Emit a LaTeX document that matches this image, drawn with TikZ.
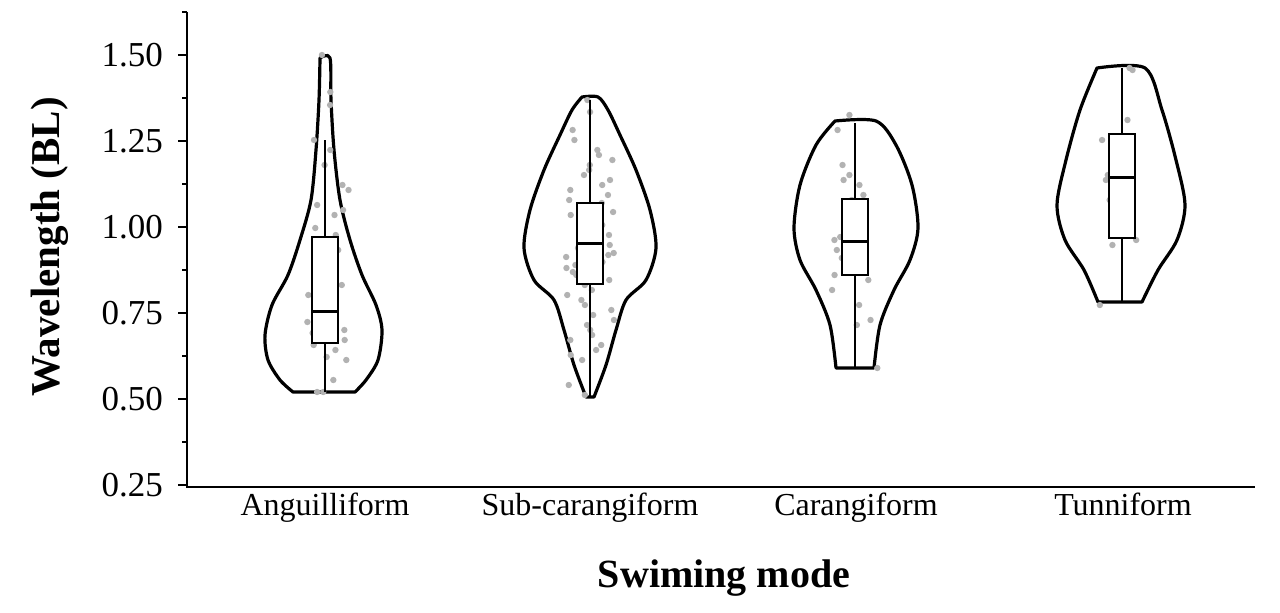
\documentclass[tikz,border=0pt]{standalone}
\usepackage{fontspec}
\setmainfont{Liberation Serif}
\usetikzlibrary{positioning}
\tikzset{
  violin/.style={line width=1.6pt,line join=round},
  boxp/.style={line width=0.7pt,fill=white},
  med/.style={line width=1.5pt},
  dot/.style={fill=black!30,draw=none},
  ticklab/.style={font=\fontsize{17.5}{19}\selectfont,anchor=east},
  catlab/.style={font=\fontsize{16}{18}\selectfont,anchor=base}
}
\begin{document}
\begin{tikzpicture}[x=0.5pt,y=-0.5pt]
  \useasboundingbox (0,0) rectangle (1280,612);
  % axes
  \draw[line width=1.3pt] (187,12) -- (187,487) -- (1255,487);
  \foreach \v/\y in {1.50/55,1.25/141,1.00/227,0.75/313,0.50/399,0.25/485} {
    \draw[line width=1pt] (187,\y) -- (178,\y);
    \node[ticklab] (t\y) at (170,\y) {\v};
  }
  \foreach \y in {98,184,270,356,442,12} \draw[line width=1pt] (187,\y) -- (182,\y);
  \node[font=\fontsize{20.5}{22}\selectfont\bfseries,rotate=90] (ylab) at (50,247) {Wavelength (BL)};
  \node[font=\fontsize{20}{22}\selectfont\bfseries] (xlab) at (724,578) {Swiming mode};
  \node[catlab] (c1) at (325,515) {Anguilliform};
  \node[catlab] (c2) at (590,515) {Sub-carangiform};
  \node[catlab] (c3) at (856,515) {Carangiform};
  \node[catlab] (c4) at (1123,515) {Tunniform};

  % violins
  \draw[violin] plot[smooth] coordinates {(320,58)(330,58)(331,100)(334,150)(340,200)(350,240)(362,275)(376,305)(382,330)(378,360)(366,380)(355,392)}
     -- plot[smooth] coordinates {(293,392)(280,380)(268,360)(265,335)(272,305)(288,275)(300,240)(311,200)(316,150)(319,100)(320,58)} -- cycle;
  \draw[violin] plot[smooth] coordinates {(582,97)(598,97)(608,110)(620,135)(636,170)(650,210)(656,248)(646,280)(626,300)(616,330)(606,365)(594,397)}
     -- plot[smooth] coordinates {(586,397)(574,365)(564,330)(554,300)(534,280)(524,248)(530,210)(544,170)(560,135)(572,110)(582,97)} -- cycle;
  \draw[violin] plot[smooth] coordinates {(835,121)(876,121)(896,145)(912,185)(918,228)(910,260)(894,290)(880,325)(874,368)}
     -- plot[smooth] coordinates {(836,368)(830,325)(816,290)(800,260)(794,228)(800,185)(816,145)(835,121)} -- cycle;
  \draw[violin] plot[smooth] coordinates {(1097,68)(1145,68)(1162,110)(1176,160)(1185,205)(1177,240)(1158,270)(1142,302)}
     -- plot[smooth] coordinates {(1098,302)(1084,270)(1065,240)(1057,205)(1066,160)(1080,110)(1097,68)} -- cycle;

  % points
  \pgfmathsetseed{7}
  \foreach \cx/\ys in {325/{55,92,105,140,150,165,185,190,205,210,215,228,235,250,260,262,270,272,285,295,300,305,310,320,322,330,333,340,345,350,357,360,380,392,392},
    590/{100,112,130,140,150,155,160,165,170,175,180,185,190,195,200,203,207,210,212,215,220,225,230,232,235,240,242,245,248,250,253,255,257,260,262,265,268,270,272,275,280,285,290,295,300,305,310,315,320,325,330,335,340,345,350,355,360,385,395},
    855/{115,130,165,175,180,185,195,200,210,220,230,237,240,245,250,258,265,275,280,290,305,320,325,368},
    1122/{68,70,120,140,150,175,180,200,220,240,245,305}} {
    \foreach \y in \ys {
      \pgfmathsetmacro{\dx}{rand*24}
      \fill[dot] (\cx+\dx,\y) circle (3.2);
    }
  }

  % box plots
  \foreach \cx/\wt/\qa/\md/\qb/\wb in {325/140/237/311/343/392,590/100/203/243/284/397,855/123/199/241/275/368,1122/68/134/177/238/302} {
    \draw[line width=0.8pt] (\cx,\wt) -- (\cx,\wb);
    \draw[boxp] (\cx-13,\qa) rectangle (\cx+13,\qb);
    \draw[med] (\cx-13,\md) -- (\cx+13,\md);
  }
\end{tikzpicture}
\end{document}
